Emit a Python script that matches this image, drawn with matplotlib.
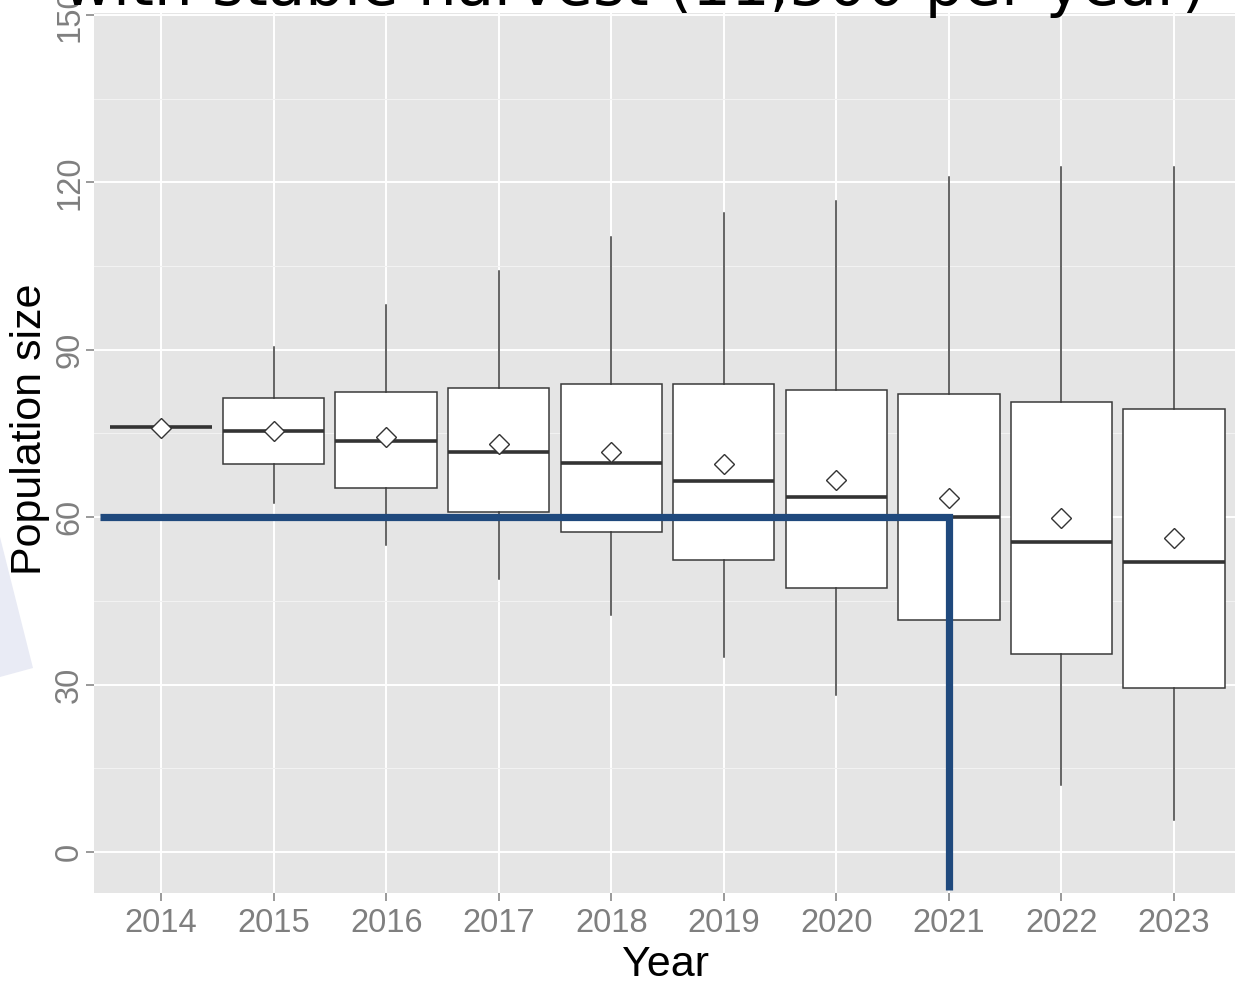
import matplotlib.pyplot as plt
from matplotlib.patches import Polygon

# valores (população simulada por ano)
years = ['2014', '2015', '2016', '2017', '2018', '2019', '2020', '2021', '2022', '2023']
q1 = [76.1, 69.5, 65.2, 60.9, 57.3, 52.3, 47.3, 41.6, 35.4, 29.3]
q3 = [76.1, 81.3, 82.4, 83.1, 83.9, 83.9, 82.8, 82.0, 80.6, 79.4]
medians = [76.1, 75.4, 73.6, 71.7, 69.7, 66.5, 63.6, 60.0, 55.6, 52.0]
means = [75.9, 75.5, 74.4, 73.1, 71.7, 69.5, 66.7, 63.4, 59.8, 56.2]
whisk_lo = [76.1, 62.5, 55.1, 48.9, 42.5, 34.9, 28.1, 20.0, 12.0, 5.7]
whisk_hi = [76.1, 90.5, 98.0, 104.1, 110.2, 114.5, 116.7, 121.0, 122.7, 122.7]

threshold = 60
threshold_year = '2021'
title = "with stable harvest (11,500 per year)"

stats = []
for i in range(len(years)):
    stats.append({'label': years[i], 'med': medians[i], 'q1': q1[i], 'q3': q3[i],
                  'whislo': whisk_lo[i], 'whishi': whisk_hi[i], 'mean': means[i],
                  'fliers': []})

fig = plt.figure(figsize=(12.35, 9.83), dpi=100)

# decoração clara do slide no canto esquerdo
fig.patches.append(Polygon([[0, 1 - 537 / 983], [33 / 1235, 1 - 668 / 983], [0, 1 - 677 / 983]],
                           closed=True, transform=fig.transFigure, facecolor='#E9EBF5',
                           edgecolor='none', zorder=0))

left = 93.5 / 1235
right = 1241.5 / 1235
bottom = (983 - 893) / 983
top = 1 - 13 / 983
ax = fig.add_axes([left, bottom, right - left, top - bottom])
ax.set_facecolor('#E5E5E5')
for s in ax.spines.values():
    s.set_visible(False)

pos = list(range(1, len(years) + 1))
ax.bxp(stats, positions=pos, widths=0.9, showmeans=True, showcaps=False,
       patch_artist=True,
       boxprops=dict(facecolor='white', edgecolor='#3A3A3A', linewidth=1.1),
       whiskerprops=dict(color='#3A3A3A', linewidth=1.1),
       medianprops=dict(color='#333333', linewidth=2.6, solid_capstyle='butt'),
       meanprops=dict(marker='D', markerfacecolor='white', markeredgecolor='#333333',
                      markersize=10, markeredgewidth=1.0),
       zorder=3)

ax.set_xlim(0.4, len(years) + 0.6)
ax.set_ylim(-7.35, 150.36)

ax.set_yticks([0, 30, 60, 90, 120, 150])
ax.set_yticks([15, 45, 75, 105, 135], minor=True)
ax.set_xticks(pos)
ax.set_xticklabels(years)
ax.grid(True, which='major', color='white', linewidth=1.4, zorder=0)
ax.grid(True, which='minor', axis='y', color='#F2F2F2', linewidth=0.8, zorder=0)
ax.set_axisbelow(True)

ax.tick_params(axis='both', which='major', length=6, width=1.1, color='#7F7F7F',
               labelcolor='#7F7F7F', labelsize=23.5)
ax.tick_params(axis='both', which='minor', length=0)
ax.tick_params(axis='x', pad=5)
ax.tick_params(axis='y', pad=0)
for lb in ax.get_yticklabels():
    lb.set_rotation(90)
    lb.set_va('center')
for lb in ax.get_xticklabels() + ax.get_yticklabels():
    lb.set_family('Liberation Sans')

ax.set_xlabel('Year', fontsize=31, family='Liberation Sans', va='center')
ax.set_ylabel('Population size', fontsize=31, family='Liberation Sans', va='center')
ax.xaxis.set_label_coords(0.498, -0.082)
ax.yaxis.set_label_coords(-0.0553, 0.527)

# linha de referência azul (limite de 60 até 2021)
xi = years.index(threshold_year) + 1
ax.plot([0.458, xi, xi], [threshold, threshold, -6.8], color='#1F497D', linewidth=5.2,
        solid_joinstyle='miter', solid_capstyle='butt', zorder=5, clip_on=False)

fig.text(634 / 1235, 1 - 5 / 983, title, ha='center', va='baseline', fontsize=44,
         family='DejaVu Sans', color='black')

fig.savefig('out.png', dpi=100)
